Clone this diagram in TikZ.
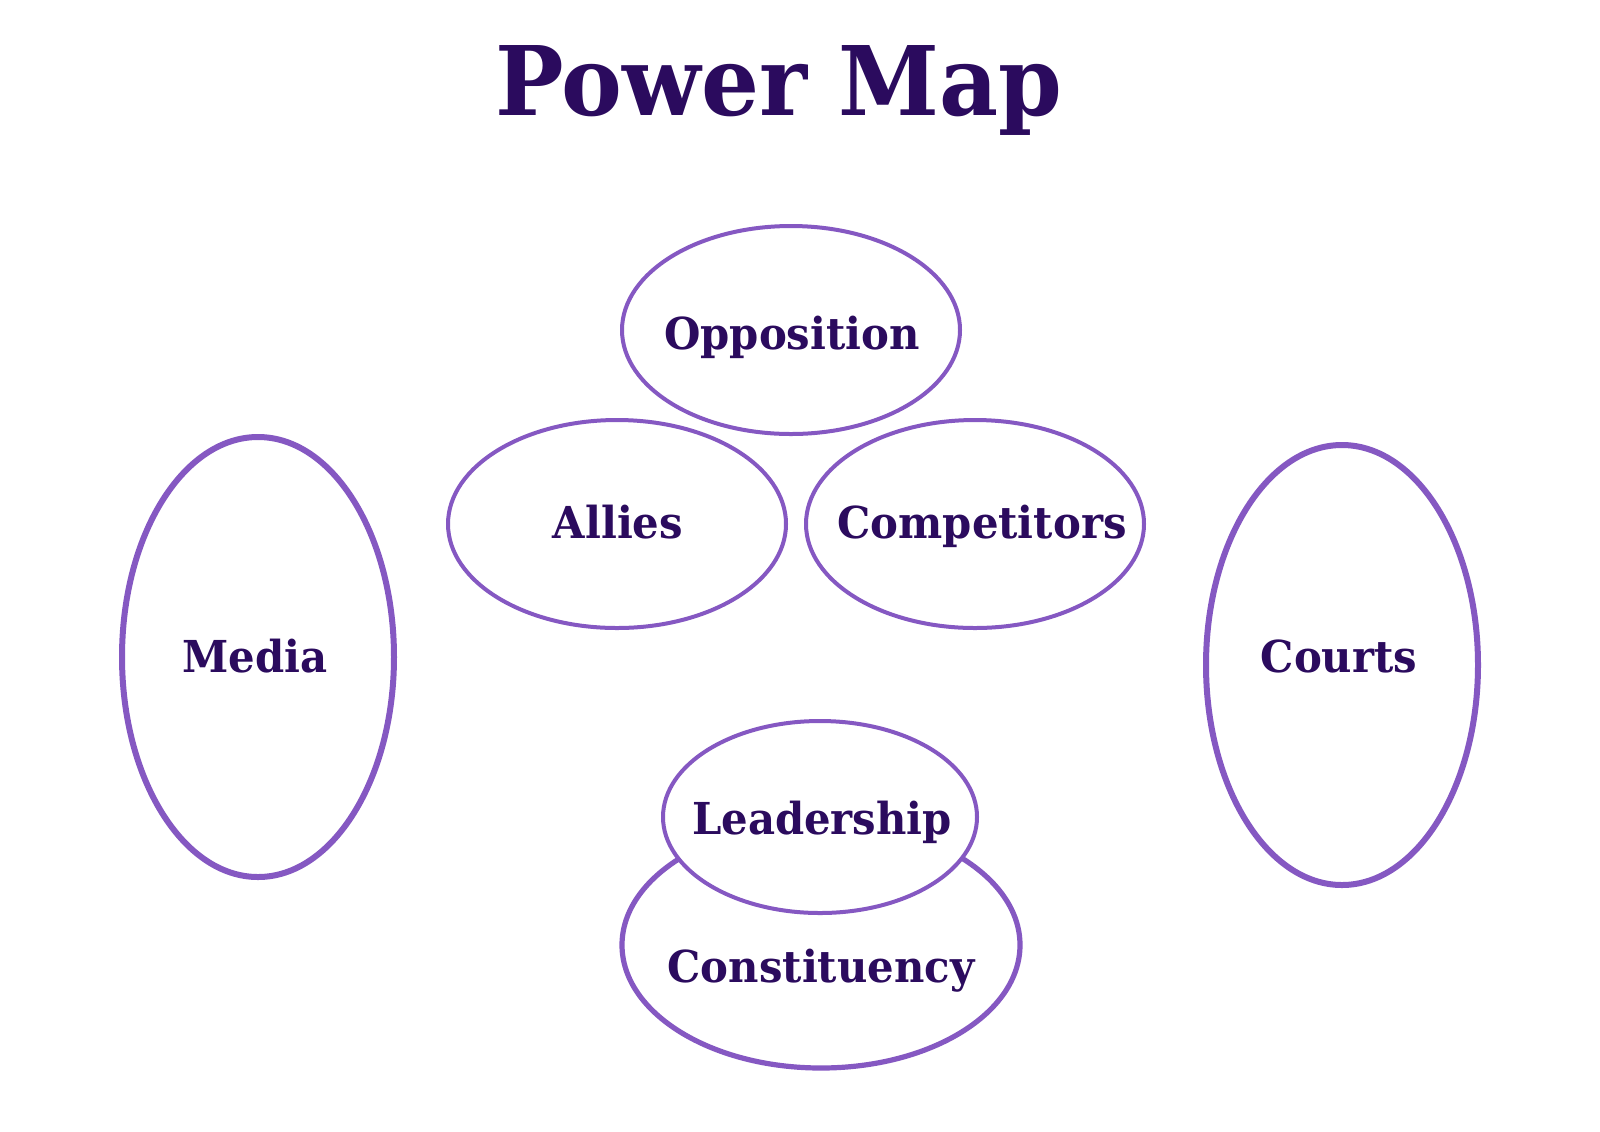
\documentclass[tikz,border=0pt]{standalone}
\usepackage{fontspec}
\setmainfont{DejaVu Serif}
\newfontfamily\labelfont[FakeStretch=0.95]{DejaVu Serif}
\usetikzlibrary{shapes.geometric}
\definecolor{ringcol}{HTML}{8558C2}
\definecolor{inkcol}{HTML}{2B0B5E}
\tikzset{
  ring/.style={ellipse, draw=ringcol, line width=2pt, inner sep=0pt, fill=none},
  lbl/.style={text=inkcol, font=\labelfont\bfseries\fontsize{22}{26}\selectfont, inner sep=0pt, anchor=base},
}
\begin{document}
\begin{tikzpicture}[x=0.5pt,y=-0.5pt]
\useasboundingbox[fill=white] (0,0) rectangle (1600,1131);
\node[text=inkcol, font=\labelfont\bfseries\fontsize{48}{56}\selectfont, anchor=base, inner sep=0pt] (title) at (779,115) {Power Map};
% ellipses
\node[ring, minimum width=169pt, minimum height=104pt] (opp) at (791,330) {};
\node[ring, minimum width=169pt, minimum height=104pt] (all) at (617,524) {};
\node[ring, minimum width=169pt, minimum height=104pt] (comp) at (975,524) {};
\node[ring, line width=3pt, minimum width=136pt, minimum height=220pt] (med) at (258,657) {};
\node[ring, line width=3pt, minimum width=136pt, minimum height=220pt] (crt) at (1342,665) {};
\node[ring, line width=2.6pt, minimum width=199pt, minimum height=123pt] (cons) at (821,945) {};
\node[ring, fill=white, minimum width=157pt, minimum height=96pt] (lead) at (820,817) {};
% labels
\node[lbl] (toppo) at (792,349) {Opposition};
\node[lbl] (tall) at (618,538) {Allies};
\node[lbl] (tcomp) at (982,538) {Competitors};
\node[lbl] (tmed) at (255,672) {Media};
\node[lbl] (tcrt) at (1339,672) {Courts};
\node[lbl] (tlead) at (822,834) {Leadership};
\node[lbl] (tcons) at (821,982) {Constituency};
\end{tikzpicture}
\end{document}
